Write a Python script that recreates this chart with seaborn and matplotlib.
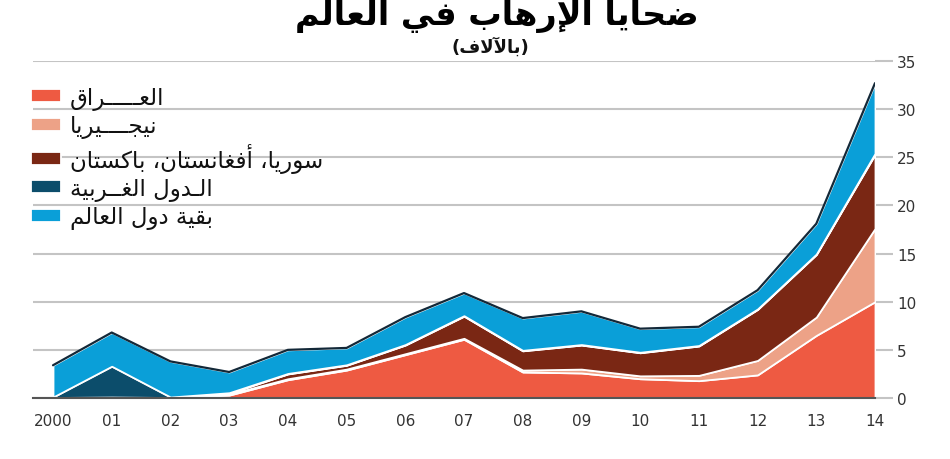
import numpy as np
import matplotlib
matplotlib.use("Agg")
import matplotlib.pyplot as plt
import seaborn as sns

# deaths from terrorism, thousands
years = [2000, 2001, 2002, 2003, 2004, 2005, 2006, 2007, 2008, 2009, 2010, 2011, 2012, 2013, 2014]
iraq = [0.05, 0.1, 0.05, 0.3, 1.9, 2.9, 4.5, 6.1, 2.7, 2.6, 2.0, 1.8, 2.4, 6.5, 10.0]
nigeria = [0.0, 0.0, 0.0, 0.1, 0.1, 0.1, 0.1, 0.1, 0.2, 0.4, 0.3, 0.55, 1.5, 1.9, 7.6]
syr_afg_pak = [0.0, 0.0, 0.0, 0.1, 0.5, 0.4, 0.9, 2.3, 2.0, 2.5, 2.4, 3.05, 5.3, 6.5, 7.7]
western = [0.05, 3.2, 0.05, 0.05, 0.05, 0.05, 0.05, 0.05, 0.05, 0.05, 0.05, 0.05, 0.05, 0.05, 0.1]
rest = [3.3, 3.5, 3.7, 2.15, 2.45, 1.75, 2.85, 2.35, 3.35, 3.45, 2.45, 1.95, 1.95, 3.15, 7.3]

tick_labels = ["2000", "01", "02", "03", "04", "05", "06", "07", "08", "09", "10", "11", "12", "13", "14"]
labels = ["العـــــراق", "نيجــــيريا", "سوريا، أفغانستان، باكستان", "الـدول الغــربية", "بقية دول العالم"]
colors = ["#ee5a42", "#eda287", "#7a2714", "#0c4d6b", "#0a9fd8"]
title = "ضحايا الإرهاب في العالم"
subtitle = "(بالآلاف)"


# matplotlib has no arabic shaping, so do a small one by hand
_letters = [("ء", 1), ("آ", 2), ("أ", 2), ("ؤ", 2), ("إ", 2), ("ئ", 4), ("ا", 2), ("ب", 4),
            ("ة", 2), ("ت", 4), ("ث", 4), ("ج", 4), ("ح", 4), ("خ", 4), ("د", 2), ("ذ", 2),
            ("ر", 2), ("ز", 2), ("س", 4), ("ش", 4), ("ص", 4), ("ض", 4), ("ط", 4), ("ظ", 4),
            ("ع", 4), ("غ", 4), ("ف", 4), ("ق", 4), ("ك", 4), ("ل", 4), ("م", 4), ("ن", 4),
            ("ه", 4), ("و", 2), ("ى", 2), ("ي", 4)]
FORMS = {}
code = 0xFE80
for ch, n in _letters:
    FORMS[ch] = [chr(code + k) for k in range(n)]
    code += n
LAM_ALEF = {"آ": ["\uFEF5", "\uFEF6"], "أ": ["\uFEF7", "\uFEF8"],
            "إ": ["\uFEF9", "\uFEFA"], "ا": ["\uFEFB", "\uFEFC"]}
TATWEEL = "\u0640"


def joins_prev(c):
    return c == TATWEEL or (c in FORMS and len(FORMS[c]) >= 2) or (isinstance(c, tuple))


def joins_next(c):
    return c == TATWEEL or (c in FORMS and len(FORMS[c]) == 4)


def shape(text):
    toks = []
    i = 0
    while i < len(text):
        if text[i] == "ل" and i + 1 < len(text) and text[i + 1] in LAM_ALEF:
            toks.append(("la", text[i + 1]))
            i += 2
        else:
            toks.append(text[i])
            i += 1
    out = []
    for k, t in enumerate(toks):
        prev = toks[k - 1] if k > 0 else None
        nxt = toks[k + 1] if k + 1 < len(toks) else None
        jp = prev is not None and joins_next(prev if not isinstance(prev, tuple) else "x") and joins_prev(t)
        jn = nxt is not None and joins_next(t) and joins_prev(nxt)
        if isinstance(t, tuple):
            out.append(LAM_ALEF[t[1]][1 if jp else 0])
        elif t in FORMS:
            f = FORMS[t]
            if len(f) == 1:
                out.append(f[0])
            elif len(f) == 2:
                out.append(f[1] if jp else f[0])
            else:
                if jp and jn:
                    out.append(f[3])
                elif jp:
                    out.append(f[1])
                elif jn:
                    out.append(f[2])
                else:
                    out.append(f[0])
        else:
            out.append(t)
    s = "".join(reversed(out))
    return s.translate(str.maketrans("()", ")("))


sns.set_style("white")
plt.rcParams["font.family"] = ["DejaVu Sans"]

fig = plt.figure(figsize=(9.5, 4.6), dpi=100)
ax = fig.add_axes([33 / 950, 61 / 460, (875 - 33) / 950, (399 - 62) / 460])

ax.stackplot(years, iraq, nigeria, syr_afg_pak, western, rest, colors=colors,
             labels=[shape(l) for l in labels], edgecolor="white", linewidth=1.3, zorder=2)
total = np.vstack([iraq, nigeria, syr_afg_pak, western, rest]).sum(axis=0)
sns.lineplot(x=years, y=total, color="#132838", lw=1.6, ax=ax, zorder=3)

ax.set_xlim(2000 - 20 / 58.7, 2014)
ax.set_ylim(0, 35)
ax.set_xticks(years)
ax.set_xticklabels(tick_labels)
ax.set_yticks(range(0, 36, 5))
ax.yaxis.tick_right()
ax.grid(axis="y", color="#c4c4c4", lw=1.5, zorder=0)
ax.set_axisbelow(True)
for s in ["top", "left", "right"]:
    ax.spines[s].set_visible(False)
ax.spines["bottom"].set_color("#555555")
ax.spines["bottom"].set_linewidth(1.5)
ax.spines["bottom"].set_zorder(4)
ax.tick_params(axis="x", direction="out", length=5, width=1.3, color="#555555",
               labelsize=11, labelcolor="#333333", pad=6)
ax.tick_params(axis="y", direction="out", length=13, width=1.5, color="#c4c4c4",
               labelsize=11, labelcolor="#333333", pad=3, right=True)
ax.set_xlabel("")
ax.set_ylabel("")

leg = ax.legend(loc="upper left", bbox_to_anchor=(31 / 950, (460 - 87) / 460),
                bbox_transform=fig.transFigure, frameon=False, fontsize=16.5,
                handlelength=1.3, handleheight=0.5, handletextpad=0.4,
                labelspacing=0.19, borderpad=0, borderaxespad=0)
for t in leg.get_texts():
    t.set_color("#111111")

fig.text(0.523, 1 - 25 / 460, shape(title), ha="center", va="baseline",
         fontsize=24, fontweight="bold", color="black")
fig.text(0.516, 1 - 47 / 460, shape(subtitle), ha="center", va="center",
         fontsize=13, fontweight="bold", color="#111111")

fig.savefig("out.png", dpi=100)
